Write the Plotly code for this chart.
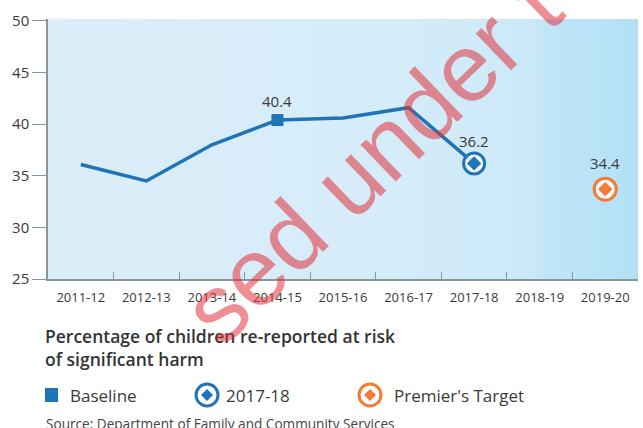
import plotly.graph_objects as go

# ---------------- data ----------------
categories = ['2011-12', '2012-13', '2013-14', '2014-15', '2015-16',
              '2016-17', '2017-18', '2018-19', '2019-20']
values = [36.1, 34.5, 38.0, 40.4, 40.6, 41.6, 36.2, None, None]
baseline_cat = '2014-15'
baseline_value = 40.4
current_cat = '2017-18'
current_value = 36.2
target_cat = '2019-20'
target_value = 34.4          # label shown
target_marker_value = 33.7   # where the marker sits in the picture
y_ticks = [25, 30, 35, 40, 45, 50]
title_text = 'Percentage of children re-reported at risk<br>of significant harm'
legend_labels = ['Baseline', '2017-18', "Premier's Target"]
source_text = 'Source: Department of Family and Community Services'

# ---------------- style ----------------
BLUE = '#1f73b7'
ORANGE = '#f37b34'
TEXT = '#3a3a3a'
AXIS = '#8596a0'
FONT = 'Open Sans'
W, H = 643, 428
L, R, T, B = 48, 5, 19, 149
PW = W - L - R
PH = H - T - B

def xp(px):
    return (px - L) / PW

def yp(py):
    return (H - B - py) / PH

xi = list(range(len(categories)))
idx = {c: i for i, c in enumerate(categories)}

fig = go.Figure()

# background gradient of the plot area
fig.add_trace(go.Scatter(
    x=[-0.5, 8.5, 8.5, -0.5, -0.5], y=[25, 25, 50.19, 50.19, 25],
    mode='none', fill='toself', hoverinfo='skip', showlegend=False,
    fillgradient=dict(type='horizontal',
                      colorscale=[[0, '#dceef9'], [0.6, '#d5ecf9'],
                                  [0.82, '#cbe9f8'], [0.845, '#c0e6f8'],
                                  [1, '#b3e0f6']]),
))

# main line
fig.add_trace(go.Scatter(
    x=xi, y=values, mode='lines', line=dict(color=BLUE, width=3.5),
    showlegend=False, hoverinfo='skip', connectgaps=False,
))

# baseline square
fig.add_trace(go.Scatter(
    x=[idx[baseline_cat]], y=[baseline_value], mode='markers',
    marker=dict(symbol='square', size=12, color=BLUE),
    showlegend=False, hoverinfo='skip',
))

# 2017-18 ring + diamond
fig.add_trace(go.Scatter(
    x=[idx[current_cat]], y=[current_value], mode='markers',
    marker=dict(symbol='circle', size=21, color='rgba(255,255,255,0.8)',
                line=dict(color=BLUE, width=3)),
    showlegend=False, hoverinfo='skip',
))
fig.add_trace(go.Scatter(
    x=[idx[current_cat]], y=[current_value], mode='markers',
    marker=dict(symbol='diamond', size=11, color=BLUE),
    showlegend=False, hoverinfo='skip',
))

# target ring + diamond
fig.add_trace(go.Scatter(
    x=[idx[target_cat]], y=[target_marker_value], mode='markers',
    marker=dict(symbol='circle', size=22, color='rgba(255,255,255,0.8)',
                line=dict(color=ORANGE, width=3)),
    showlegend=False, hoverinfo='skip',
))
fig.add_trace(go.Scatter(
    x=[idx[target_cat]], y=[target_marker_value], mode='markers',
    marker=dict(symbol='diamond', size=11, color=ORANGE),
    showlegend=False, hoverinfo='skip',
))

annotations = []
# value labels
for cat, val, txt, shift in [(baseline_cat, baseline_value, f'{baseline_value}', 19),
                             (current_cat, current_value, f'{current_value}', 22),
                             (target_cat, target_marker_value, f'{target_value}', 26)]:
    annotations.append(dict(x=idx[cat], y=val, xref='x', yref='y', text=txt,
                            showarrow=False, yshift=shift, xanchor='center',
                            yanchor='middle',
                            font=dict(family=FONT, size=15, color=TEXT)))

# title (two lines, one text block)
annotations.append(dict(x=xp(43), y=yp(347), xref='paper', yref='paper',
                        text=title_text, showarrow=False, xanchor='left',
                        yanchor='middle', align='left',
                        font=dict(family=FONT, size=17.5, color='#333333',
                                  weight=600)))
# legend texts
for px_, txt in zip([68, 224, 392], legend_labels):
    annotations.append(dict(x=xp(px_), y=yp(395), xref='paper', yref='paper',
                            text=txt, showarrow=False, xanchor='left',
                            yanchor='middle',
                            font=dict(family=FONT, size=17, color=TEXT)))
# source
annotations.append(dict(x=xp(44), y=yp(423), xref='paper', yref='paper',
                        text=source_text, showarrow=False, xanchor='left',
                        yanchor='middle',
                        font=dict(family=FONT, size=13.6, color='#444444')))
# watermark
annotations.append(dict(x=xp(371), y=yp(158), xref='paper', yref='paper',
                        text='sed under t', showarrow=False, xanchor='center',
                        yanchor='middle', textangle=-44,
                        font=dict(family='Liberation Sans', size=96,
                                  color='rgba(226,50,60,0.55)')))

shapes = []
# legend icons
shapes.append(dict(type='rect', xref='paper', yref='paper',
                   x0=xp(45), x1=xp(58), y0=yp(402), y1=yp(388),
                   fillcolor=BLUE, line=dict(width=0)))
for cx, col in [(207, BLUE), (370, ORANGE)]:
    shapes.append(dict(type='circle', xref='paper', yref='paper',
                       x0=xp(cx - 11), x1=xp(cx + 11), y0=yp(395 + 11), y1=yp(395 - 11),
                       fillcolor='white', line=dict(color=col, width=3)))
    d = 6
    path = (f'M {xp(cx)},{yp(395 - d)} L {xp(cx + d)},{yp(395)} '
            f'L {xp(cx)},{yp(395 + d)} L {xp(cx - d)},{yp(395)} Z')
    shapes.append(dict(type='path', xref='paper', yref='paper', path=path,
                       fillcolor=col, line=dict(width=0)))

fig.update_layout(
    width=W, height=H,
    margin=dict(l=L, r=R, t=T, b=B),
    paper_bgcolor='white', plot_bgcolor='white',
    showlegend=False,
    annotations=annotations, shapes=shapes,
    font=dict(family=FONT, color=TEXT),
    xaxis=dict(range=[-0.5, 8.5], tickmode='array', tickvals=xi,
               ticktext=categories, ticks='', showgrid=False, zeroline=False,
               showline=True, linecolor=AXIS, linewidth=1.5,
               tickfont=dict(family=FONT, size=13, color=TEXT),
               ticklabelstandoff=6,
               minor=dict(tickmode='array',
                          tickvals=[i + 0.5 for i in range(len(categories) - 1)],
                          ticks='inside', ticklen=7, tickcolor=AXIS,
                          tickwidth=1, showgrid=False),
               fixedrange=True),
    yaxis=dict(range=[25, 50.19], tickmode='array', tickvals=y_ticks,
               ticks='outside', ticklen=14, tickcolor=AXIS, tickwidth=1.2,
               showgrid=False, zeroline=False, showline=True, linecolor=AXIS,
               linewidth=1.5,
               tickfont=dict(family=FONT, size=15, color=TEXT),
               fixedrange=True),
)

fig.write_html('out.html')
